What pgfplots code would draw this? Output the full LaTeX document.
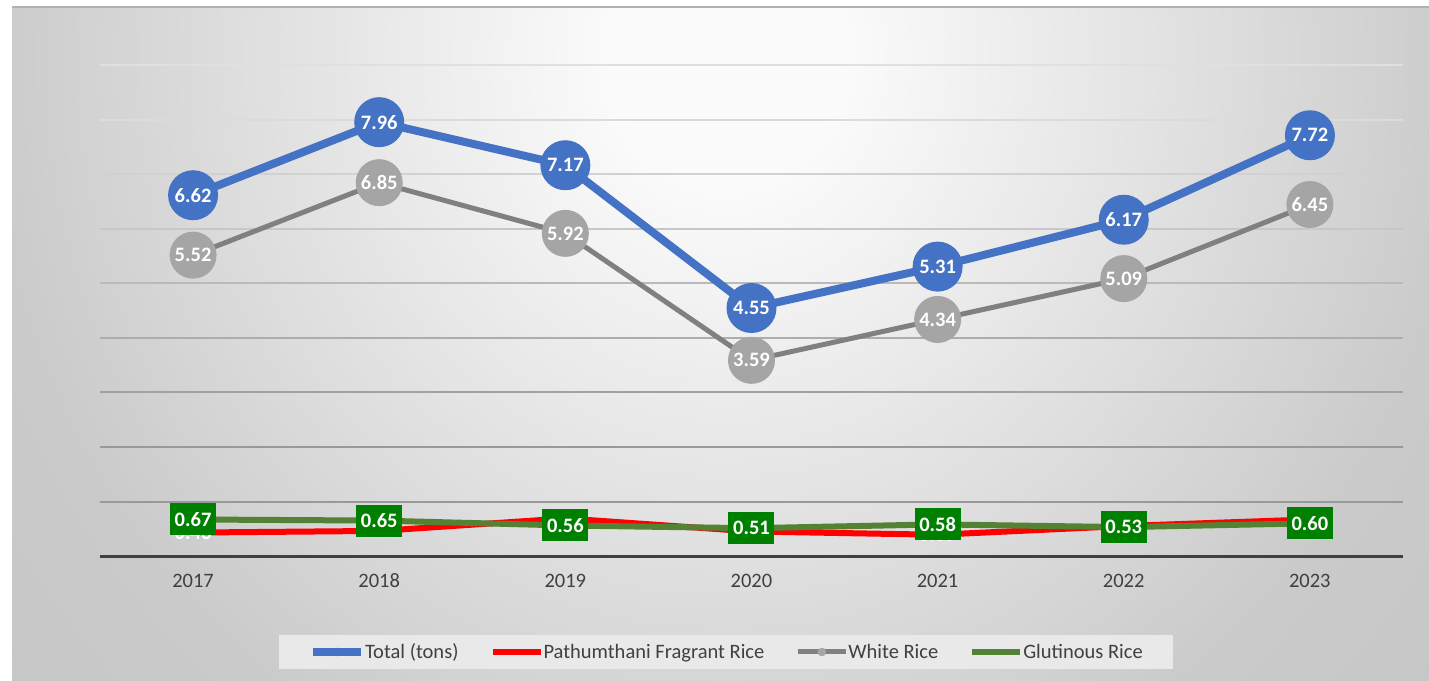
\documentclass[border=0pt]{standalone}
\usepackage{pgfplots}
\pgfplotsset{compat=1.18}
\usepackage{fontspec}
\setmainfont{Carlito}[Numbers=Lining]

\definecolor{totblue}{HTML}{4472C4}
\definecolor{whiteln}{HTML}{808080}
\definecolor{whitemk}{HTML}{A5A5A5}
\definecolor{glutln}{HTML}{548235}
\definecolor{glutbox}{HTML}{008000}
\definecolor{txtgray}{HTML}{404040}
\definecolor{leggray}{HTML}{E9E9E9}
\definecolor{bgA}{HTML}{FBFBFB}
\definecolor{bgB}{HTML}{CACACA}
\definecolor{bgC}{HTML}{BEBEBE}

\pgfdeclareradialshading{panel}{\pgfpoint{0bp}{0bp}}{color(0bp)=(bgA); color(3.75bp)=(bgA); color(25bp)=(bgB); color(50bp)=(bgC)}

\newcommand{\lblfont}{\fontsize{20.5}{24}\selectfont\bfseries}
\newcommand{\txtfont}{\fontsize{20.5}{24}\selectfont}

\begin{document}
\begin{tikzpicture}[x=1pt,y=1pt]
  \useasboundingbox (0,0) rectangle (1429,680);
  \fill[white] (0,0) rectangle (1429,680);
  \begin{scope}
    \clip (12,0) rectangle (1429,673);
    \shade[shading=panel] (-23,-172) rectangle (1475,1412);
  \end{scope}
  \draw[color=black!30, line width=2pt] (12,673) -- (1429,673);

  \begin{axis}[
    at={(100pt,124pt)}, anchor=south west,
    scale only axis, width=1303pt, height=490.5pt,
    xmin=2016.5, xmax=2023.5, ymin=0, ymax=9,
    clip=false,
    axis x line*=bottom, axis y line=none,
    x axis line style={color=txtgray, line width=3pt, -},
    xtick={2017,...,2023},
    xticklabels={2017,2018,2019,2020,2021,2022,2023},
    major tick length=0pt,
    xticklabel style={font=\txtfont, text=txtgray, inner sep=0pt,
      anchor=north, text height=14pt, text depth=4pt, yshift=-17pt},
    ytick=\empty,
    legend style={at={(0.4804,-0.1957)}, anchor=center, legend columns=4,
      fill=leggray, draw=none, inner xsep=30pt, inner ysep=9pt,
      font=\txtfont, nodes={inner xsep=0pt, inner ysep=0pt, text=txtgray},
      /tikz/every even column/.append style={column sep=31pt}},
    legend image code/.code={\draw[mark repeat=2, mark phase=2, #1]
      plot coordinates {(0pt,0pt) (24pt,0pt) (48pt,0pt)};},
    nodes near coords={\pgfmathprintnumber[fixed,fixed zerofill,precision=2,assume math mode=true]{\pgfplotspointmeta}},
  ]
    % gridlines, darker towards the bottom
    \draw[black!12, line width=2pt] (axis cs:2016.5,9) -- (axis cs:2023.5,9);
    \draw[black!14, line width=2pt] (axis cs:2016.5,8) -- (axis cs:2023.5,8);
    \draw[black!18, line width=2pt] (axis cs:2016.5,7) -- (axis cs:2023.5,7);
    \draw[black!22, line width=2pt] (axis cs:2016.5,6) -- (axis cs:2023.5,6);
    \draw[black!27, line width=2pt] (axis cs:2016.5,5) -- (axis cs:2023.5,5);
    \draw[black!32, line width=2pt] (axis cs:2016.5,4) -- (axis cs:2023.5,4);
    \draw[black!37, line width=2pt] (axis cs:2016.5,3) -- (axis cs:2023.5,3);
    \draw[black!40, line width=2pt] (axis cs:2016.5,2) -- (axis cs:2023.5,2);
    \draw[black!40, line width=2pt] (axis cs:2016.5,1) -- (axis cs:2023.5,1);

    \addplot[color=totblue, line width=8pt, line join=round,
      mark=*, mark size=4pt, mark options={line width=0.5pt},
      every node near coord/.append style={anchor=center, circle, fill=totblue,
        text=white, minimum size=50pt, inner sep=0pt, font=\lblfont}]
      coordinates {(2017,6.62) (2018,7.96) (2019,7.17) (2020,4.55) (2021,5.31) (2022,6.17) (2023,7.72)};
    \addlegendentry{Total (tons)}

    \addplot[color=red, line width=6pt, line join=round,
      every node near coord/.append style={anchor=center, text=white,
        inner sep=0pt, font=\lblfont}]
      coordinates {(2017,0.43) (2018,0.46) (2019,0.69) (2020,0.45) (2021,0.39) (2022,0.55) (2023,0.67)};
    \addlegendentry{Pathumthani Fragrant Rice}

    \addplot[color=whiteln, line width=5pt, line join=round,
      mark=*, mark size=4pt, mark options={line width=0.5pt, fill=whitemk, draw=whitemk},
      every node near coord/.append style={anchor=center, circle, fill=whitemk,
        text=white, minimum size=47pt, inner sep=0pt, font=\lblfont}]
      coordinates {(2017,5.52) (2018,6.85) (2019,5.92) (2020,3.59) (2021,4.34) (2022,5.09) (2023,6.45)};
    \addlegendentry{White Rice}

    \addplot[color=glutln, line width=6pt, line join=round,
      every node near coord/.append style={anchor=center, rectangle, fill=glutbox,
        text=white, minimum width=46pt, minimum height=32pt, inner sep=0pt, font=\lblfont}]
      coordinates {(2017,0.67) (2018,0.65) (2019,0.56) (2020,0.51) (2021,0.58) (2022,0.53) (2023,0.60)};
    \addlegendentry{Glutinous Rice}
  \end{axis}
\end{tikzpicture}
\end{document}
